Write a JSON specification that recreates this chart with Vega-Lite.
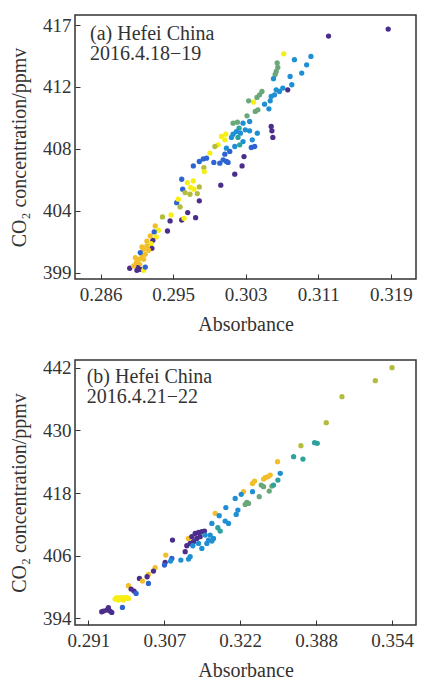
{
  "$schema": "https://vega.github.io/schema/vega-lite/v6.json",
  "padding": {"left": 8, "top": 14, "right": 0, "bottom": 0},
  "spacing": 22,
  "config": {
    "font": "Liberation Serif, serif",
    "view": {"stroke": "#333333", "strokeWidth": 1.5},
    "axis": {
      "grid": false,
      "domain": false,
      "tickSize": -5,
      "tickColor": "#333333",
      "labelFont": "Liberation Serif, serif",
      "labelFontSize": 19,
      "labelColor": "#333333",
      "titleFont": "Liberation Serif, serif",
      "titleFontSize": 20,
      "titleFontWeight": "normal",
      "titleColor": "#333333"
    },
    "axisX": {"labelPadding": 11, "titlePadding": 10},
    "axisY": {"labelPadding": 9, "titlePadding": 13}
  },
  "datasets": {
    "a": [
      {"abs":0.3187,"co2":416.71,"g":"P"},{"abs":0.31192,"co2":416.2,"g":"P"},{"abs":0.30683,"co2":414.91,"g":"Y"},{"abs":0.30992,"co2":414.72,"g":"L"},{"abs":0.30943,"co2":414.11,"g":"L"},{"abs":0.30804,"co2":414.48,"g":"L"},{"abs":0.30887,"co2":413.51,"g":"L"},{"abs":0.30755,"co2":413.26,"g":"L"},{"abs":0.30608,"co2":414.24,"g":"G"},{"abs":0.30615,"co2":413.92,"g":"G"},{"abs":0.30597,"co2":413.63,"g":"G"},{"abs":0.30585,"co2":413.41,"g":"G"},{"abs":0.30566,"co2":413.1,"g":"L"},{"abs":0.30774,"co2":412.66,"g":"L"},{"abs":0.30728,"co2":412.29,"g":"P"},{"abs":0.30672,"co2":412.42,"g":"L"},{"abs":0.30634,"co2":412.17,"g":"L"},{"abs":0.30597,"co2":412.29,"g":"L"},{"abs":0.30578,"co2":411.93,"g":"L"},{"abs":0.3054,"co2":411.81,"g":"L"},{"abs":0.30529,"co2":411.49,"g":"L"},{"abs":0.30514,"co2":410.91,"g":"L"},{"abs":0.30465,"co2":411.25,"g":"L"},{"abs":0.30435,"co2":412.17,"g":"G"},{"abs":0.30408,"co2":411.93,"g":"G"},{"abs":0.30378,"co2":411.74,"g":"G"},{"abs":0.3034,"co2":411.4,"g":"Y"},{"abs":0.30284,"co2":411.49,"g":"G"},{"abs":0.30389,"co2":410.84,"g":"G"},{"abs":0.30359,"co2":410.72,"g":"G"},{"abs":0.30265,"co2":410.4,"g":"G"},{"abs":0.30295,"co2":409.99,"g":"L"},{"abs":0.3022,"co2":409.87,"g":"L"},{"abs":0.30175,"co2":409.5,"g":"T"},{"abs":0.30144,"co2":409.26,"g":"L"},{"abs":0.3019,"co2":409.14,"g":"L"},{"abs":0.30107,"co2":409.87,"g":"G"},{"abs":0.30156,"co2":409.94,"g":"G"},{"abs":0.30246,"co2":409.38,"g":"L"},{"abs":0.30295,"co2":409.31,"g":"L"},{"abs":0.30382,"co2":409.14,"g":"L"},{"abs":0.30325,"co2":408.66,"g":"L"},{"abs":0.30352,"co2":408.17,"g":"B"},{"abs":0.30314,"co2":408.1,"g":"B"},{"abs":0.3022,"co2":408.53,"g":"L"},{"abs":0.30182,"co2":408.29,"g":"T"},{"abs":0.30126,"co2":408.17,"g":"L"},{"abs":0.30069,"co2":407.81,"g":"B"},{"abs":0.30031,"co2":408.05,"g":"L"},{"abs":0.30013,"co2":407.61,"g":"B"},{"abs":0.29994,"co2":407.2,"g":"B"},{"abs":0.30031,"co2":407.08,"g":"B"},{"abs":0.29956,"co2":406.96,"g":"B"},{"abs":0.3054,"co2":409.63,"g":"P"},{"abs":0.30548,"co2":409.31,"g":"P"},{"abs":0.30559,"co2":408.83,"g":"P"},{"abs":0.30231,"co2":407.44,"g":"P"},{"abs":0.30013,"co2":408.66,"g":"Y"},{"abs":0.29975,"co2":408.9,"g":"Y"},{"abs":0.30024,"co2":409.07,"g":"Y"},{"abs":0.29937,"co2":408.29,"g":"Y"},{"abs":0.299,"co2":408.17,"g":"O"},{"abs":0.29843,"co2":407.69,"g":"Y"},{"abs":0.29805,"co2":407.32,"g":"B"},{"abs":0.29768,"co2":407.27,"g":"B"},{"abs":0.29723,"co2":407.08,"g":"B"},{"abs":0.29655,"co2":406.76,"g":"B"},{"abs":0.29775,"co2":406.64,"g":"O"},{"abs":0.29779,"co2":406.35,"g":"Y"},{"abs":0.29888,"co2":407.01,"g":"B"},{"abs":0.3005,"co2":407.01,"g":"B"},{"abs":0.30126,"co2":406.16,"g":"P"},{"abs":0.30209,"co2":406.76,"g":"P"},{"abs":0.29967,"co2":405.36,"g":"P"},{"abs":0.29523,"co2":405.79,"g":"B"},{"abs":0.29534,"co2":405.07,"g":"B"},{"abs":0.29587,"co2":405.55,"g":"Y"},{"abs":0.29655,"co2":405.67,"g":"Y"},{"abs":0.29625,"co2":405.19,"g":"Y"},{"abs":0.29561,"co2":404.82,"g":"O"},{"abs":0.29617,"co2":404.7,"g":"O"},{"abs":0.29662,"co2":405.07,"g":"Y"},{"abs":0.29723,"co2":405.23,"g":"O"},{"abs":0.297,"co2":404.75,"g":"O"},{"abs":0.29723,"co2":404.22,"g":"P"},{"abs":0.29466,"co2":404.09,"g":"B"},{"abs":0.29485,"co2":404.34,"g":"Y"},{"abs":0.29504,"co2":403.78,"g":"O"},{"abs":0.29591,"co2":403.37,"g":"P"},{"abs":0.29681,"co2":403.0,"g":"P"},{"abs":0.29523,"co2":402.83,"g":"P"},{"abs":0.29549,"co2":402.95,"g":"Y"},{"abs":0.29391,"co2":402.76,"g":"P"},{"abs":0.29402,"co2":403.2,"g":"Y"},{"abs":0.29304,"co2":403.05,"g":"O"},{"abs":0.29361,"co2":402.03,"g":"P"},{"abs":0.29222,"co2":402.4,"g":"R"},{"abs":0.29259,"co2":402.08,"g":"Y"},{"abs":0.2921,"co2":401.96,"g":"B"},{"abs":0.29233,"co2":401.6,"g":"Y"},{"abs":0.29195,"co2":401.35,"g":"P"},{"abs":0.29173,"co2":401.11,"g":"Y"},{"abs":0.29127,"co2":401.3,"g":"R"},{"abs":0.29184,"co2":400.77,"g":"P"},{"abs":0.29146,"co2":400.63,"g":"R"},{"abs":0.2909,"co2":400.7,"g":"R"},{"abs":0.29109,"co2":400.33,"g":"R"},{"abs":0.29071,"co2":400.21,"g":"R"},{"abs":0.29052,"co2":400.46,"g":"B"},{"abs":0.29033,"co2":399.97,"g":"R"},{"abs":0.2909,"co2":399.97,"g":"R"},{"abs":0.29007,"co2":399.73,"g":"R"},{"abs":0.29045,"co2":399.61,"g":"R"},{"abs":0.29022,"co2":399.36,"g":"P"},{"abs":0.29052,"co2":399.24,"g":"P"},{"abs":0.28932,"co2":399.32,"g":"P"},{"abs":0.2909,"co2":399.17,"g":"Y"},{"abs":0.29014,"co2":399.17,"g":"P"},{"abs":0.29109,"co2":399.41,"g":"B"},{"abs":0.29071,"co2":400.87,"g":"R"},{"abs":0.29165,"co2":401.67,"g":"R"},{"abs":0.28996,"co2":400.09,"g":"R"},{"abs":0.29127,"co2":400.94,"g":"R"},{"abs":0.28977,"co2":399.49,"g":"R"},{"abs":0.30107,"co2":409.07,"g":"L"},{"abs":0.30088,"co2":408.83,"g":"L"},{"abs":0.30163,"co2":408.83,"g":"T"}
    ],
    "b": [
      {"abs":0.354,"co2":442.0,"g":"O"},{"abs":0.35054,"co2":439.51,"g":"O"},{"abs":0.34362,"co2":436.45,"g":"O"},{"abs":0.34036,"co2":431.47,"g":"O"},{"abs":0.3351,"co2":427.06,"g":"O"},{"abs":0.33794,"co2":427.64,"g":"T"},{"abs":0.33849,"co2":427.51,"g":"T"},{"abs":0.33358,"co2":424.96,"g":"T"},{"abs":0.33552,"co2":424.51,"g":"T"},{"abs":0.33025,"co2":424.0,"g":"R"},{"abs":0.33081,"co2":421.77,"g":"L"},{"abs":0.33032,"co2":420.49,"g":"T"},{"abs":0.32873,"co2":421.45,"g":"R"},{"abs":0.32825,"co2":421.13,"g":"R"},{"abs":0.32769,"co2":420.94,"g":"R"},{"abs":0.32735,"co2":420.68,"g":"R"},{"abs":0.32548,"co2":420.3,"g":"R"},{"abs":0.32506,"co2":419.85,"g":"R"},{"abs":0.32686,"co2":419.53,"g":"G"},{"abs":0.32735,"co2":419.21,"g":"G"},{"abs":0.32908,"co2":419.34,"g":"G"},{"abs":0.32852,"co2":418.38,"g":"G"},{"abs":0.32942,"co2":419.53,"g":"T"},{"abs":0.32506,"co2":418.26,"g":"L"},{"abs":0.32645,"co2":417.3,"g":"G"},{"abs":0.32319,"co2":418.26,"g":"R"},{"abs":0.32271,"co2":417.75,"g":"L"},{"abs":0.32146,"co2":416.98,"g":"L"},{"abs":0.32388,"co2":416.21,"g":"G"},{"abs":0.32354,"co2":415.83,"g":"G"},{"abs":0.32423,"co2":416.02,"g":"G"},{"abs":0.31952,"co2":415.19,"g":"L"},{"abs":0.32202,"co2":414.74,"g":"L"},{"abs":0.32167,"co2":413.91,"g":"L"},{"abs":0.31731,"co2":414.11,"g":"R"},{"abs":0.31814,"co2":413.66,"g":"L"},{"abs":0.31662,"co2":412.19,"g":"L"},{"abs":0.31938,"co2":412.64,"g":"L"},{"abs":0.32008,"co2":412.19,"g":"L"},{"abs":0.31786,"co2":411.36,"g":"T"},{"abs":0.31835,"co2":410.72,"g":"T"},{"abs":0.31177,"co2":409.32,"g":"R"},{"abs":0.31315,"co2":410.28,"g":"P"},{"abs":0.31385,"co2":410.47,"g":"P"},{"abs":0.31454,"co2":410.6,"g":"P"},{"abs":0.31509,"co2":410.72,"g":"P"},{"abs":0.31246,"co2":409.64,"g":"P"},{"abs":0.3135,"co2":409.32,"g":"P"},{"abs":0.31281,"co2":408.68,"g":"P"},{"abs":0.31211,"co2":408.36,"g":"P"},{"abs":0.31142,"co2":407.91,"g":"P"},{"abs":0.31419,"co2":409.64,"g":"P"},{"abs":0.31696,"co2":409.32,"g":"L"},{"abs":0.31662,"co2":408.81,"g":"L"},{"abs":0.31558,"co2":408.36,"g":"L"},{"abs":0.31592,"co2":409.0,"g":"L"},{"abs":0.31454,"co2":407.4,"g":"L"},{"abs":0.31211,"co2":405.81,"g":"L"},{"abs":0.31177,"co2":405.36,"g":"L"},{"abs":0.31018,"co2":405.17,"g":"L"},{"abs":0.31108,"co2":406.77,"g":"P"},{"abs":0.30845,"co2":409.0,"g":"P"},{"abs":0.30706,"co2":406.13,"g":"R"},{"abs":0.30831,"co2":405.49,"g":"B"},{"abs":0.30692,"co2":404.72,"g":"P"},{"abs":0.30678,"co2":404.21,"g":"B"},{"abs":0.30485,"co2":403.7,"g":"R"},{"abs":0.3045,"co2":403.06,"g":"P"},{"abs":0.30346,"co2":402.43,"g":"R"},{"abs":0.30318,"co2":401.98,"g":"P"},{"abs":0.30159,"co2":401.66,"g":"P"},{"abs":0.30222,"co2":401.15,"g":"R"},{"abs":0.30346,"co2":400.7,"g":"B"},{"abs":0.29931,"co2":400.26,"g":"R"},{"abs":0.29986,"co2":399.62,"g":"P"},{"abs":0.30048,"co2":399.23,"g":"P"},{"abs":0.3009,"co2":398.79,"g":"B"},{"abs":0.29688,"co2":397.96,"g":"Y"},{"abs":0.29758,"co2":397.96,"g":"Y"},{"abs":0.29827,"co2":397.96,"g":"Y"},{"abs":0.29896,"co2":397.96,"g":"Y"},{"abs":0.29723,"co2":397.51,"g":"Y"},{"abs":0.29827,"co2":397.51,"g":"Y"},{"abs":0.29931,"co2":397.83,"g":"Y"},{"abs":0.29654,"co2":397.7,"g":"Y"},{"abs":0.29806,"co2":396.11,"g":"B"},{"abs":0.29412,"co2":395.4,"g":"P"},{"abs":0.29481,"co2":395.6,"g":"P"},{"abs":0.29515,"co2":396.04,"g":"P"},{"abs":0.2955,"co2":395.4,"g":"P"},{"abs":0.29377,"co2":395.28,"g":"P"},{"abs":0.31523,"co2":409.96,"g":"L"},{"abs":0.31627,"co2":409.96,"g":"L"},{"abs":0.31267,"co2":407.91,"g":"L"},{"abs":0.31385,"co2":408.36,"g":"L"},{"abs":0.30804,"co2":404.98,"g":"L"},{"abs":0.29862,"co2":397.83,"g":"Y"},{"abs":0.29585,"co2":395.15,"g":"P"}
    ]
  },
  "vconcat": [
    {
      "width": 341,
      "height": 264,
      "layer": [
        {
          "data": {"name": "a"},
          "mark": {"type": "circle", "size": 28, "opacity": 1},
          "encoding": {
            "x": {"field": "abs", "type": "quantitative", "title": "Absorbance",
              "scale": {"domain": [0.2831, 0.32186], "nice": false, "zero": false},
              "axis": {"values": [0.286, 0.29425, 0.3025, 0.31075, 0.319],
                "labelExpr": "datum.value < 0.29 ? '0.286' : datum.value < 0.298 ? '0.295' : datum.value < 0.306 ? '0.303' : datum.value < 0.315 ? '0.311' : '0.319'"}},
            "y": {"field": "co2", "type": "quantitative", "title": "CO₂ concentration/ppmv",
              "scale": {"domain": [398.54, 417.73], "nice": false, "zero": false},
              "axis": {"values": [399, 403.5, 408, 412.5, 417],
                "labelExpr": "datum.value < 400 ? '399' : datum.value < 405 ? '404' : datum.value < 410 ? '408' : datum.value < 414 ? '412' : '417'"}},
            "color": {"field": "g", "type": "nominal", "legend": null,
              "scale": {"domain": ["P","B","L","T","G","O","R","Y"],
                "range": ["#4b2e8c","#2d64d2","#1f8fd4","#2ba29c","#6aa87a","#b4bc3e","#f2bf2a","#f7ee14"]}}
          }
        },
        {
          "data": {"values": [{"panel": "a"}]},
          "mark": {"type": "text", "text": ["(a) Hefei China", "2016.4.18−19"], "lineHeight": 20, "align": "left", "baseline": "alphabetic", "font": "Liberation Serif, serif", "fontSize": 20, "color": "#333333"},
          "encoding": {
            "x": {"datum": 0.28481, "type": "quantitative"},
            "y": {"datum": 415.91, "type": "quantitative"}
          }
        }
      ]
    },
    {
      "width": 341,
      "height": 265,
      "layer": [
        {
          "data": {"name": "b"},
          "mark": {"type": "circle", "size": 28, "opacity": 1},
          "encoding": {
            "x": {"field": "abs", "type": "quantitative", "title": "Absorbance",
              "scale": {"domain": [0.28822, 0.35898], "nice": false, "zero": false},
              "axis": {"values": [0.291, 0.30675, 0.3225, 0.33825, 0.354],
                "labelExpr": "datum.value < 0.3 ? '0.291' : datum.value < 0.315 ? '0.307' : datum.value < 0.33 ? '0.322' : datum.value < 0.345 ? '0.388' : '0.354'"}},
            "y": {"field": "co2", "type": "quantitative", "title": "CO₂ concentration/ppmv",
              "scale": {"domain": [392.74, 443.47], "nice": false, "zero": false},
              "axis": {"values": [394, 406, 418, 430, 442]}},
            "color": {"field": "g", "type": "nominal", "legend": null,
              "scale": {"domain": ["P","B","L","T","G","O","R","Y"],
                "range": ["#4b2e8c","#2d64d2","#1f8fd4","#2ba29c","#6aa87a","#b4bc3e","#f2bf2a","#f7ee14"]}}
          }
        },
        {
          "data": {"values": [{"panel": "b"}]},
          "mark": {"type": "text", "text": ["(b) Hefei China", "2016.4.21−22"], "lineHeight": 20, "align": "left", "baseline": "alphabetic", "font": "Liberation Serif, serif", "fontSize": 20, "color": "#333333"},
          "encoding": {
            "x": {"datum": 0.29065, "type": "quantitative"},
            "y": {"datum": 438.99, "type": "quantitative"}
          }
        }
      ]
    }
  ]
}
